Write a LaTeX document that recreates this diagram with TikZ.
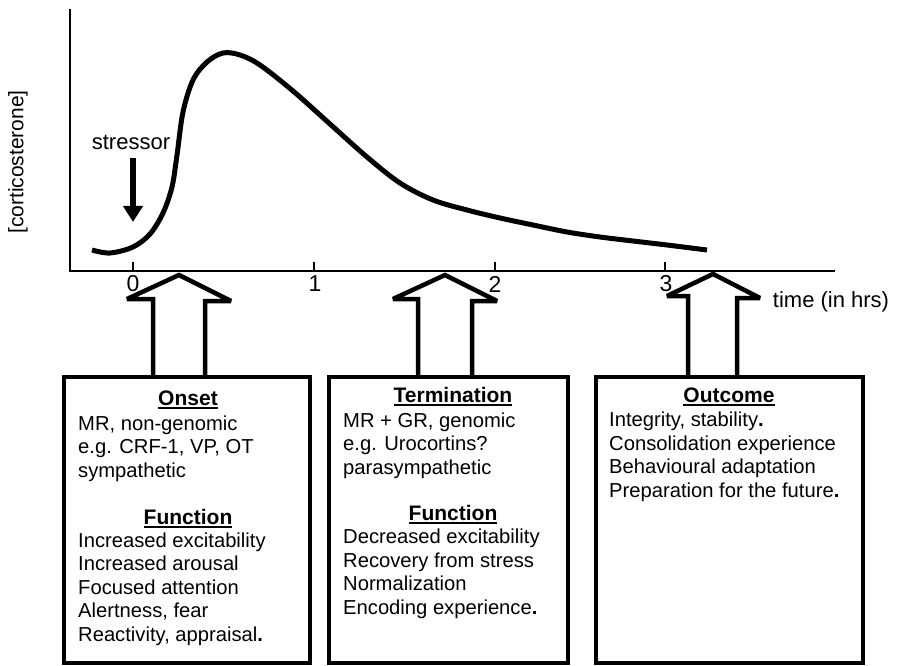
\documentclass[tikz,border=0pt]{standalone}
\usepackage{fontspec}
\setmainfont{Liberation Sans}
\usetikzlibrary{arrows.meta}

\newcommand{\ulhead}[1]{\vtop{\hbox{#1}\kern1.6pt\hrule height 1.8pt}}

\tikzset{
  panel/.style={draw, line width=4pt, inner sep=0pt},
  hollow/.style={draw, line width=4.5pt, line join=miter, miter limit=2},
  curve/.style={line width=5pt},
  axis/.style={line width=1.6pt},
  boxtext/.style={font=\fontsize{20.2}{23.4}\selectfont, align=left, inner sep=0pt, anchor=base west},
  boxhead/.style={font=\fontsize{21}{23.4}\selectfont\bfseries, inner sep=0pt, anchor=base},
  ticklabel/.style={font=\fontsize{23}{26}\selectfont, inner sep=0pt}
}

\begin{document}
\begin{tikzpicture}[x=1pt, y=-1pt]
  \useasboundingbox (0,0) rectangle (898,666);

  % axes
  \coordinate (origin) at (70,271);
  \draw[axis] (70,9) -- (origin) -- (835,271);
  \draw[axis] (133,262) -- (133,271);
  \draw[axis] (314,262) -- (314,271);
  \draw[axis] (495,262) -- (495,271);
  \draw[axis] (665,262) -- (665,271);

  \node[ticklabel] (tick0) at (133,284) {0};
  \node[ticklabel] (tick1) at (315,284) {1};
  \node[ticklabel] (tick2) at (495,284) {2};
  \node[ticklabel] (tick3) at (666,284) {3};

  \node[font=\fontsize{22}{26}\selectfont, inner sep=0pt] (timelabel) at (831,302) {time (in hrs)};
  \node[font=\fontsize{21}{25}\selectfont, rotate=90, inner sep=0pt] (ylabel) at (18,162) {[corticosterone]};

  % corticosterone curve
  \draw[curve] plot[smooth, tension=0.55] coordinates {
    (92,250) (110,253) (133,247) (150,234) (163,213) (172,187) (177,155)
    (183,112) (193,80) (207,62) (223,53) (240,55) (260,65) (293,91)
    (330,124) (367,157) (400,183) (433,200) (467,210) (500,218) (533,225)
    (567,232) (600,237) (633,241) (667,245) (707,250)};

  % stressor
  \node[font=\fontsize{22}{26}\selectfont, inner sep=3pt] (stressor) at (131,142) {stressor};
  \coordinate (stip) at (133,222);
  \draw[line width=6pt, -{Triangle[length=16pt, width=19pt]}, shorten <=6pt]
    (stressor.south -| stip) -- (stip);

  % boxes
  \node[panel, minimum width=246pt, minimum height=286pt] (onset) at (187,520) {};
  \node[panel, minimum width=239pt, minimum height=286pt] (termination) at (448.5,520) {};
  \node[panel, minimum width=267pt, minimum height=286pt] (outcome) at (729.5,520) {};

  % hollow arrows from the time axis
  \coordinate (t1) at (179,275);
  \coordinate (t2) at (445,275);
  \coordinate (t3) at (713,274);
  \draw[hollow] ([xshift=-26pt]t1 |- onset.north) -- ++(0,-76) -- ++(-26,0) -- (t1)
    -- ++(52,26) -- ++(-26,0) -- ([xshift=26pt]t1 |- onset.north);
  \draw[hollow] ([xshift=-27pt]t2 |- termination.north) -- ++(0,-76) -- ++(-25,0) -- (t2)
    -- ++(52,26) -- ++(-25,0) -- ([xshift=27pt]t2 |- termination.north);
  \draw[hollow] ([xshift=-25pt]t3 |- outcome.north) -- ++(0,-79) -- ++(-21,0) -- (t3)
    -- ++(47,24) -- ++(-23,0) -- ([xshift=24pt]t3 |- outcome.north);

  % onset (base = last line)
  \node[boxhead] (onsethead) at (188,405) {\ulhead{Onset}};
  \node[boxtext] (onsettext) at (78,477) {MR, non-genomic\\e.g. CRF-1, VP, OT\\sympathetic};
  \node[boxhead] (onsetfunc) at (188,524) {\ulhead{Function}};
  \node[boxtext] (onsetfunctext) at (78,641) {Increased excitability\\Increased arousal\\Focused attention\\Alertness, fear\\Reactivity, appraisal\textbf{.}};

  % termination
  \node[boxhead] (termhead) at (453,402) {\ulhead{Termination}};
  \node[boxtext] (termtext) at (343,474) {MR + GR, genomic\\e.g. Urocortins?\\parasympathetic};
  \node[boxhead] (termfunc) at (453,520) {\ulhead{Function}};
  \node[boxtext] (termfunctext) at (343,614) {Decreased excitability\\Recovery from stress\\Normalization\\Encoding experience\textbf{.}};

  % outcome
  \node[boxhead] (outhead) at (729,402) {\ulhead{Outcome}};
  \node[boxtext] (outtext) at (609,497) {Integrity, stability\textbf{.}\\Consolidation experience\\Behavioural adaptation\\Preparation for the future\textbf{.}};
\end{tikzpicture}
\end{document}
